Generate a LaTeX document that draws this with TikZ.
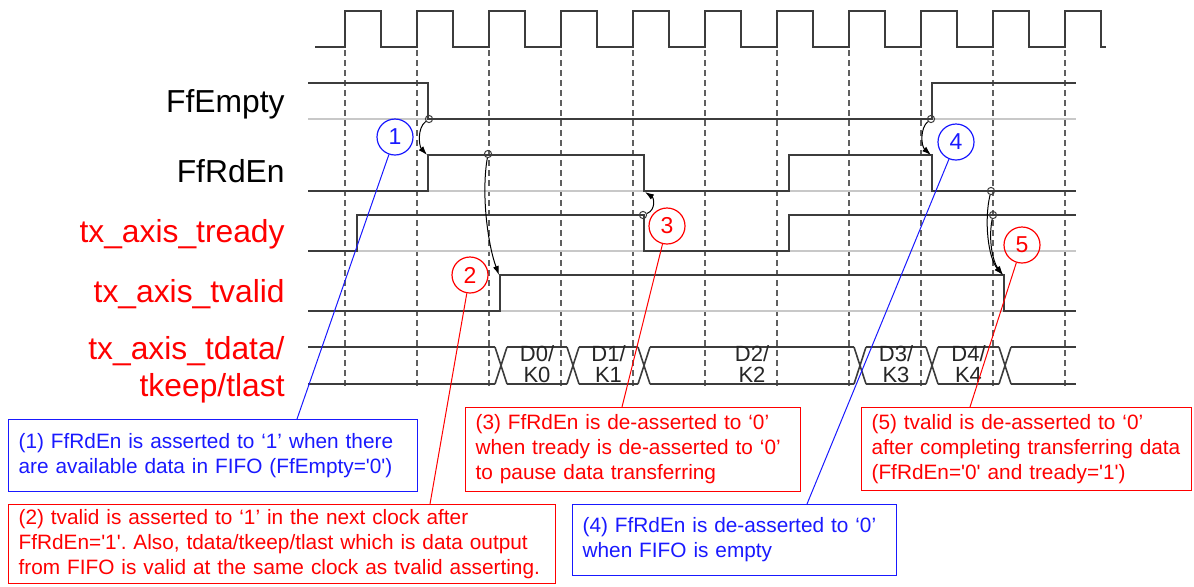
\documentclass[tikz,border=0pt]{standalone}
\usepackage{fontspec}
\setmainfont{Liberation Sans}[Ligatures=TeXOff]
\usetikzlibrary{arrows.meta}
\definecolor{notered}{RGB}{255,0,0}
\definecolor{noteblue}{RGB}{25,25,255}
\definecolor{wavegray}{RGB}{60,60,60}
\definecolor{basegray}{RGB}{200,200,200}
\definecolor{gridgray}{RGB}{95,95,95}
\frenchspacing

\begin{document}
\begin{tikzpicture}[x=0.5pt,y=-0.5pt,
 sig/.style={draw=wavegray,line width=0.8pt},
 sigbase/.style={draw=basegray,line width=0.8pt},
 clkgrid/.style={draw=gridgray,line width=0.7pt,dash pattern=on 3pt off 2pt},
 causal/.style={draw=black,line width=0.5pt,-{Latex[length=4.5pt,width=3pt]}},
 edot/.style={circle,draw=wavegray,line width=0.5pt,minimum size=3.6pt,inner sep=0pt},
 signame/.style={anchor=base east,inner sep=0pt,font=\fontsize{15.9}{18.5}\selectfont},
 datalbl/.style={align=center,inner sep=0pt,font=\fontsize{11}{10.5}\selectfont,text=black!85},
 numcirc/.style={circle,line width=0.6pt,minimum size=18pt,inner sep=0pt,font=\fontsize{11.5}{12}\selectfont},
 notebox/.style={anchor=north west,line width=0.6pt,inner xsep=5pt,inner ysep=0pt,align=left,font=\fontsize{10.4}{12.5}\selectfont}]
\useasboundingbox (0,0) rectangle (1194,586);

\foreach \k in {0,...,10}
 \draw[clkgrid] ({345+72*\k},50) -- ({345+72*\k},388);
\draw[sig] (315,47) foreach \k in {0,...,10} { -- ({345+72*\k},47) -- ({345+72*\k},11) -- ({381+72*\k},11) -- ({381+72*\k},47) } -- (1106,47);

\node[signame] (nempty) at (285,112) {FfEmpty};
\node[signame] (nrden) at (285,182) {FfRdEn};
\node[signame,text=notered] (nready) at (285,242) {tx\_axis\_tready};
\node[signame,text=notered] (nvalid) at (285,302) {tx\_axis\_tvalid};
\node[signame,anchor=east,align=right,text=notered] (ndata) at (285,370) {tx\_axis\_tdata/\\tkeep/tlast};

\foreach \y in {119,191,251,311}
 \draw[sigbase] (308,\y) -- (1076,\y);
\draw[sig] (308,83) -- (428,83) -- (428,119) -- (932,119) -- (932,83) -- (1076,83);
\draw[sig] (308,191) -- (428,191) -- (428,155) -- (644,155) -- (644,191) -- (789,191) -- (789,155) -- (932,155) -- (932,191) -- (1076,191);
\draw[sig] (308,251) -- (357,251) -- (357,215) -- (644,215) -- (644,251) -- (789,251) -- (789,215) -- (1076,215);
\draw[sig] (308,311) -- (500,311) -- (500,275) -- (1004,275) -- (1004,311) -- (1076,311);

\foreach \c in {501,573,644,860,932,1005}
 \draw[sig] (\c-6,347) -- (\c+6,384) (\c-6,384) -- (\c+6,347);
\foreach \a/\b in {308/495,507/567,579/638,650/854,866/926,938/999,1011/1076}
 \draw[sig] (\a,347) -- (\b,347) (\a,384) -- (\b,384);
\foreach \x/\d in {537/0,608.5/1,752/2,896/3,968.5/4}
 \node[datalbl] (d\d) at (\x,364) {D\d/\\K\d};

\node[edot] (e1) at (429,119) {};
\node[edot] (e2) at (488,154) {};
\node[edot] (e3) at (643,215) {};
\node[edot] (e4) at (931,119) {};
\node[edot] (e5) at (991,191) {};
\node[edot] (e6) at (993,215) {};
\coordinate (t1) at (427,155);
\coordinate (t2) at (499,275);
\coordinate (t3) at (645,192);
\coordinate (t4) at (931,155);
\coordinate (t5) at (1003,275);
\draw[causal] (e1) .. controls (417,128) and (419,146) .. (t1);
\draw[causal] (e2) .. controls (481,195) and (488,245) .. (t2);
\draw[causal] (e3) .. controls (656,210) and (654,198) .. (t3);
\draw[causal] (e4) .. controls (920,128) and (921,146) .. (t4);
\draw[causal] (e5) .. controls (984,220) and (988,258) .. (t5);
\draw[causal] (e6) .. controls (988,240) and (993,262) .. (t5);

\node[numcirc,draw=noteblue,text=noteblue] (c1) at (395,137) {1};
\node[numcirc,draw=notered,text=notered] (c2) at (470,275) {2};
\node[numcirc,draw=notered,text=notered] (c3) at (667,226) {3};
\node[numcirc,draw=noteblue,text=noteblue] (c4) at (956,142) {4};
\node[numcirc,draw=notered,text=notered] (c5) at (1022,245) {5};

\node[notebox,draw=noteblue,text=noteblue,minimum width=204.5pt,minimum height=36pt,text width=194.5pt] (b1) at (8,419)
 {(1) FfRdEn is asserted to ‘1’ when there\\are available data in FIFO (FfEmpty='0')};
\node[notebox,draw=notered,text=notered,minimum width=273.5pt,minimum height=39.5pt,text width=263.5pt] (b2) at (8,504)
 {(2) tvalid is asserted to ‘1’ in the next clock after\\FfRdEn='1'. Also, tdata/tkeep/tlast which is data output\\from FIFO is valid at the same clock as tvalid asserting.};
\node[notebox,draw=notered,text=notered,minimum width=167.5pt,minimum height=42pt,text width=157.5pt] (b3) at (465,407)
 {(3) FfRdEn is de-asserted to ‘0’\\when tready is de-asserted to ‘0’\\to pause data transferring};
\node[notebox,draw=noteblue,text=noteblue,minimum width=162pt,minimum height=35.5pt,text width=152pt] (b4) at (572,504)
 {(4) FfRdEn is de-asserted to ‘0’\\when FIFO is empty};
\node[notebox,draw=notered,text=notered,minimum width=165pt,minimum height=41.5pt,text width=155pt] (b5) at (861,407)
 {(5) tvalid is de-asserted to ‘0’\\after completing transferring data\\(FfRdEn='0' and tready='1')};

\coordinate (l1) at (297,419);
\coordinate (l2) at (430,504);
\coordinate (l3) at (622,407);
\coordinate (l4) at (807,504);
\coordinate (l5) at (970,407);
\draw[noteblue,line width=0.5pt] (c1) -- (l1);
\draw[notered,line width=0.5pt] (c2) -- (l2);
\draw[notered,line width=0.5pt] (c3) -- (l3);
\draw[noteblue,line width=0.5pt] (c4) -- (l4);
\draw[notered,line width=0.5pt] (c5) -- (l5);
\end{tikzpicture}
\end{document}
